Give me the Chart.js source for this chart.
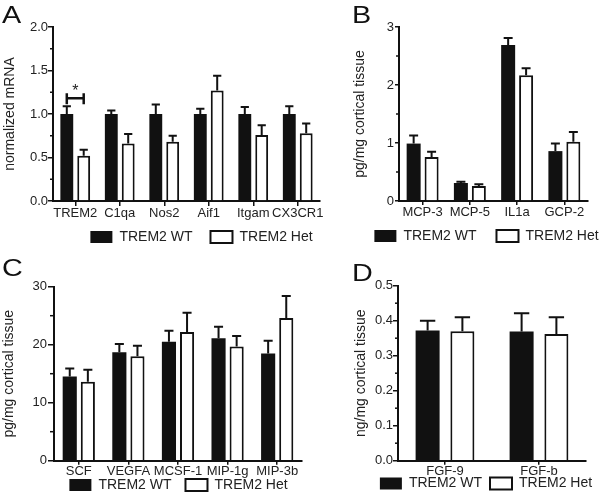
<!doctype html>
<html lang="en">
<head>
<meta charset="utf-8">
<title>TREM2 WT vs Het</title>
<script src="https://cdn.jsdelivr.net/npm/chart.js@4.4.1/dist/chart.umd.min.js"></script>
<style>
  body { margin: 0; background: #fff; font-family: 'Liberation Sans', Arial, sans-serif; }
  #page { position: relative; width: 600px; height: 503px; overflow: hidden; }
  canvas { position: absolute; }
  .tag { position: absolute; font-size: 23px; line-height: 1; color: #111; transform: scaleX(1.25); transform-origin: left top; }
</style>
</head>
<body>
<div id="page">
  <canvas id="chartA" width="330" height="267" style="left:0;top:0"></canvas>
  <canvas id="chartB" width="300" height="269" style="left:300px;top:0"></canvas>
  <canvas id="chartC" width="310" height="273" style="left:0;top:250px"></canvas>
  <canvas id="chartD" width="300" height="267" style="left:300px;top:250px"></canvas>
  <div class="tag" style="left:2px;top:4px">A</div>
  <div class="tag" style="left:352px;top:4px">B</div>
  <div class="tag" style="left:2px;top:257px">C</div>
  <div class="tag" style="left:352px;top:262px">D</div>
</div>

<script>
// ---- data ----
const seriesNames = ['TREM2 WT', 'TREM2 Het'];

// A: normalized mRNA
const catsA = ['TREM2', 'C1qa', 'Nos2', 'Aif1', 'Itgam', 'CX3CR1'];
const wtA = [1.0, 1.0, 1.0, 1.0, 1.0, 1.0];
const wtErrA = [0.09, 0.04, 0.11, 0.06, 0.08, 0.09];
const hetA = [0.52, 0.66, 0.68, 1.27, 0.76, 0.78];
const hetErrA = [0.07, 0.11, 0.07, 0.17, 0.11, 0.11];
const yTicksA = [0, 0.5, 1.0, 1.5, 2.0];
const sigA = { index: 0, level: 1.18, label: '*' };

// B: pg/mg cortical tissue
const catsB = ['MCP-3', 'MCP-5', 'IL1a', 'GCP-2'];
const wtB = [0.99, 0.31, 2.69, 0.86];
const wtErrB = [0.14, 0.02, 0.12, 0.13];
const hetB = [0.76, 0.26, 2.17, 1.02];
const hetErrB = [0.09, 0.03, 0.12, 0.17];
const yTicksB = [0, 1, 2, 3];

// C: pg/mg cortical tissue
const catsC = ['SCF', 'VEGFA', 'MCSF-1', 'MIP-1g', 'MIP-3b'];
const wtC = [14.5, 18.7, 20.5, 21.1, 18.5];
const wtErrC = [1.4, 1.4, 1.9, 2.0, 2.2];
const hetC = [13.6, 18.0, 22.2, 19.7, 24.6];
const hetErrC = [2.1, 1.8, 3.3, 1.8, 3.8];
const yTicksC = [0, 10, 20, 30];

// D: ng/mg cortical tissue
const catsD = ['FGF-9', 'FGF-b'];
const wtD = [0.372, 0.369];
const wtErrD = [0.028, 0.052];
const hetD = [0.370, 0.362];
const hetErrD = [0.040, 0.048];
const yTicksD = [0, 0.1, 0.2, 0.3, 0.4, 0.5];

const INK = '#111';
const TEXT = '#222';

// SEM bars, upward only
const errorBars = {
  id: 'errorBars',
  afterDatasetsDraw(chart) {
    const ctx = chart.ctx, y = chart.scales.y;
    chart.data.datasets.forEach((ds, i) => {
      chart.getDatasetMeta(i).data.forEach((bar, j) => {
        const top = y.getPixelForValue(ds.data[j] + ds.errors[j]);
        const half = bar.width * 0.32;
        ctx.save();
        ctx.strokeStyle = INK;
        ctx.lineWidth = 2;
        ctx.beginPath();
        ctx.moveTo(bar.x, bar.y);
        ctx.lineTo(bar.x, top);
        ctx.moveTo(bar.x - half, top);
        ctx.lineTo(bar.x + half, top);
        ctx.stroke();
        ctx.restore();
      });
    });
  }
};

// short ticks halfway between the labelled ones
const minorTicks = {
  id: 'minorTicks',
  afterDraw(chart, args, opts) {
    const y = chart.scales.y, ctx = chart.ctx, x0 = chart.chartArea.left;
    const t = y.ticks;
    ctx.save();
    ctx.strokeStyle = INK;
    ctx.lineWidth = 1.5;
    for (let k = 0; k < t.length - 1; k++) {
      const py = y.getPixelForValue((t[k].value + t[k + 1].value) / 2);
      ctx.beginPath();
      ctx.moveTo(x0 - opts.len, py);
      ctx.lineTo(x0, py);
      ctx.stroke();
    }
    ctx.restore();
  }
};

// move the legend row (Prism puts it a bit right of centre and tight under the labels)
const legendShift = {
  id: 'legendShift',
  afterLayout(chart, args, opts) {
    const lg = chart.legend;
    if (!lg) return;
    lg.left += opts.dx;
    lg.right += opts.dx;
    lg.top += opts.dy;
    lg.bottom += opts.dy;
  }
};

const sigBracket = {
  id: 'sigBracket',
  afterDatasetsDraw(chart, args, opts) {
    if (!opts || opts.level === undefined) return;
    const a = chart.getDatasetMeta(0).data[opts.index];
    const b = chart.getDatasetMeta(1).data[opts.index];
    const py = chart.scales.y.getPixelForValue(opts.level);
    const ctx = chart.ctx;
    ctx.save();
    ctx.strokeStyle = INK;
    ctx.lineWidth = 2.5;
    ctx.beginPath();
    ctx.moveTo(a.x, py); ctx.lineTo(b.x, py);
    ctx.moveTo(a.x, py - 5); ctx.lineTo(a.x, py + 6);
    ctx.moveTo(b.x, py - 5); ctx.lineTo(b.x, py + 6);
    ctx.stroke();
    ctx.fillStyle = TEXT;
    ctx.font = '16px "Liberation Sans", Arial, sans-serif';
    ctx.textAlign = 'center';
    ctx.textBaseline = 'alphabetic';
    ctx.fillText(opts.label, (a.x + b.x) / 2, py - 2);
    ctx.restore();
  }
};

function panel(id, o) {
  const canvas = document.getElementById(id);
  const yMin = o.yTicks[0], yMax = o.yTicks[o.yTicks.length - 1];
  const legendH = 14 + o.lp + 10;
  const xh = canvas.height - legendH - o.bottom;
  const dy = o.legendY - (canvas.height - legendH + o.lp + 7);
  return new Chart(canvas, {
    type: 'bar',
    data: {
      labels: o.cats,
      datasets: [
        { label: seriesNames[0], data: o.wt, errors: o.wtErr, backgroundColor: INK, borderColor: INK,
          borderWidth: 0, barPercentage: o.bp, categoryPercentage: o.cp },
        { label: seriesNames[1], data: o.het, errors: o.hetErr, backgroundColor: '#fff', borderColor: INK,
          borderWidth: 2, barPercentage: o.bp, categoryPercentage: o.cp }
      ]
    },
    options: {
      responsive: false,
      animation: false,
      events: [],
      layout: { padding: { left: 0, right: o.pr, top: o.pt, bottom: 0 } },
      scales: {
        x: {
          grid: { display: true, drawOnChartArea: false, offset: false, tickLength: o.xTick, color: INK, lineWidth: 1.5 },
          border: { display: true, color: INK, width: 2 },
          ticks: { color: TEXT, font: { size: 13 }, padding: o.xPad, maxRotation: 0, autoSkip: false },
          afterFit: s => { s.height = xh; }
        },
        y: {
          min: yMin,
          max: yMax,
          ticks: { stepSize: o.yTicks[1] - o.yTicks[0], color: TEXT, font: { size: 13 }, padding: o.yPad,
            callback: v => v.toFixed(o.dec) },
          grid: { drawOnChartArea: false, tickLength: o.yTick, color: INK, lineWidth: 1.5 },
          border: { color: INK, width: 2 },
          title: { display: true, text: o.yTitle, color: TEXT, font: { size: 14 }, padding: { top: o.titleX - 8.4, bottom: 0 } },
          afterFit: s => { s.width = o.yw; }
        }
      },
      plugins: {
        legend: {
          position: 'bottom',
          labels: { boxWidth: 22, boxHeight: 12, padding: o.lp, color: TEXT, font: { size: 14 } }
        },
        tooltip: { enabled: false },
        legendShift: { dx: o.dx, dy: dy },
        minorTicks: { len: o.minorLen },
        sigBracket: o.sig || {}
      }
    },
    plugins: [errorBars, minorTicks, legendShift, sigBracket]
  });
}

panel('chartA', {
  cats: catsA, wt: wtA, wtErr: wtErrA, het: hetA, hetErr: hetErrA, yTicks: yTicksA, dec: 1,
  yTitle: 'normalized mRNA', sig: sigA,
  yw: 53, pr: 10, pt: 27, bottom: 201, legendY: 237, xTick: 5, xPad: 0, yTick: 5, yPad: 0, minorLen: 3,
  titleX: 10, lp: 18, dx: 41.5, bp: 0.76, cp: 0.76
});

panel('chartB', {
  cats: catsB, wt: wtB, wtErr: wtErrB, het: hetB, hetErr: hetErrB, yTicks: yTicksB, dec: 0,
  yTitle: 'pg/mg cortical tissue',
  yw: 99, pr: 12, pt: 27, bottom: 201, legendY: 236, xTick: 4, xPad: 0, yTick: 4, yPad: 1, minorLen: 3,
  titleX: 60, lp: 20, dx: 42.5, bp: 0.78, cp: 0.76
});

panel('chartC', {
  cats: catsC, wt: wtC, wtErr: wtErrC, het: hetC, hetErr: hetErrC, yTicks: yTicksC, dec: 0,
  yTitle: 'pg/mg cortical tissue',
  yw: 54, pr: 8, pt: 36.7, bottom: 210.7, legendY: 235, xTick: 4, xPad: -1, yTick: 6, yPad: 1, minorLen: 4,
  titleX: 9, lp: 14, dx: 27.5, bp: 0.78, cp: 0.73
});

panel('chartD', {
  cats: catsD, wt: wtD, wtErr: wtErrD, het: hetD, hetErr: hetErrD, yTicks: yTicksD, dec: 1,
  yTitle: 'ng/mg cortical tissue',
  yw: 98, pr: 14, pt: 35.7, bottom: 210.7, legendY: 233.5, xTick: 4, xPad: -1, yTick: 5, yPad: 0, minorLen: 3,
  titleX: 61, lp: 8, dx: 43, bp: 0.69, cp: 0.74
});
</script>
</body>
</html>
